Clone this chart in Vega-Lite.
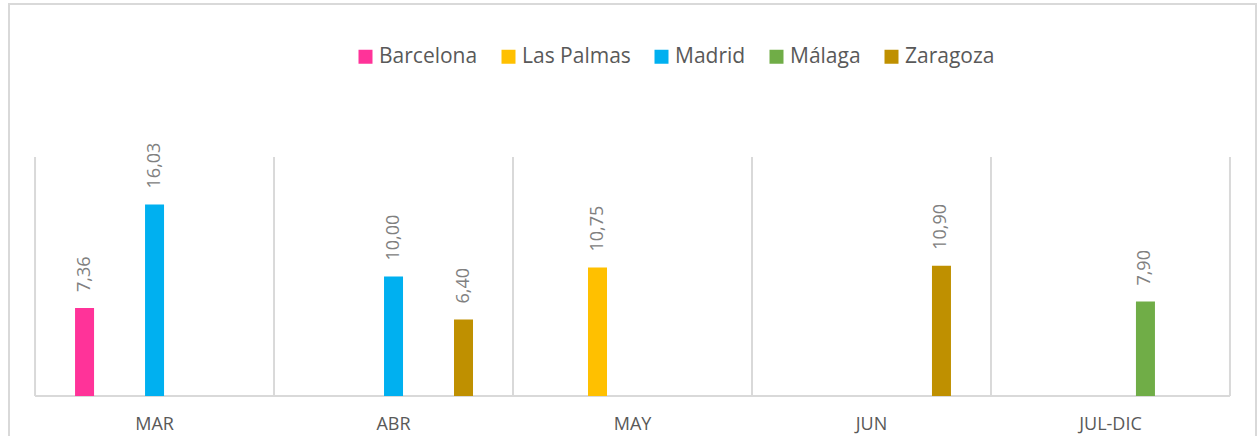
{
  "$schema": "https://vega.github.io/schema/vega-lite/v6.json",
  "width": 1247,
  "height": 436,
  "autosize": {"type": "none"},
  "padding": {"left": 9, "top": 4, "right": 1, "bottom": 0},
  "background": "white",
  "config": {
    "view": {"stroke": "#d9d9d9", "strokeWidth": 2},
    "font": "Open Sans",
    "locale": {"number": {"decimal": ",", "thousands": ".", "grouping": [3], "currency": ["", " €"]}}
  },
  "datasets": {
    "bars": [
      {"mes": "MAR", "ciudad": "Barcelona", "valor": 7.36},
      {"mes": "MAR", "ciudad": "Madrid", "valor": 16.03},
      {"mes": "ABR", "ciudad": "Madrid", "valor": 10.00},
      {"mes": "ABR", "ciudad": "Zaragoza", "valor": 6.40},
      {"mes": "MAY", "ciudad": "Las Palmas", "valor": 10.75},
      {"mes": "JUN", "ciudad": "Zaragoza", "valor": 10.90},
      {"mes": "JUL-DIC", "ciudad": "Málaga", "valor": 7.90}
    ],
    "meses": [
      {"mes": "MAR"}, {"mes": "ABR"}, {"mes": "MAY"}, {"mes": "JUN"}, {"mes": "JUL-DIC"}
    ]
  },
  "layer": [
    {
      "data": {"name": "meses"},
      "mark": {"type": "rule", "color": "#d9d9d9", "strokeWidth": 2},
      "encoding": {
        "x": {"field": "mes", "type": "nominal", "bandPosition": 0,
              "scale": {"domain": ["MAR", "ABR", "MAY", "JUN", "JUL-DIC"], "paddingInner": 0, "paddingOuter": 0.109},
              "axis": {"title": null, "offset": -44, "domain": false, "ticks": false, "grid": false, "labelAngle": 0,
                       "labelFont": "Open Sans", "labelFontSize": 18, "labelColor": "#595959", "labelPadding": 19, "labelBaseline": "top"}},
        "y": {"datum": 0, "type": "quantitative", "scale": {"domain": [-3.682, 32.803], "nice": false, "zero": false}, "axis": null},
        "y2": {"datum": 20}
      }
    },
    {
      "data": {"values": [{}]},
      "mark": {"type": "rule", "color": "#d9d9d9", "strokeWidth": 2},
      "encoding": {
        "x": {"datum": "JUL-DIC", "type": "nominal", "bandPosition": 1},
        "y": {"datum": 0, "type": "quantitative"},
        "y2": {"datum": 20}
      }
    },
    {
      "data": {"values": [{}]},
      "mark": {"type": "rule", "color": "#d9d9d9", "strokeWidth": 2},
      "encoding": {
        "x": {"datum": "MAR", "type": "nominal", "bandPosition": 0},
        "x2": {"datum": "JUL-DIC", "bandPosition": 1},
        "y": {"datum": 0, "type": "quantitative"}
      }
    },
    {
      "data": {"name": "bars"},
      "mark": {"type": "bar", "width": 19},
      "encoding": {
        "x": {"field": "mes", "type": "nominal"},
        "xOffset": {"field": "ciudad", "type": "nominal",
                    "scale": {"domain": ["Barcelona", "Las Palmas", "Madrid", "Málaga", "Zaragoza"], "paddingInner": 0.171, "paddingOuter": 1}},
        "y": {"field": "valor", "type": "quantitative"},
        "color": {"field": "ciudad", "type": "nominal",
                  "scale": {"domain": ["Barcelona", "Las Palmas", "Madrid", "Málaga", "Zaragoza"],
                            "range": ["#FF3399", "#FFC000", "#00B0F0", "#70AD47", "#BF9000"]},
                  "legend": {"orient": "none", "legendX": 346, "legendY": 42, "direction": "horizontal", "title": null,
                             "symbolType": "square", "symbolSize": 196, "symbolStrokeWidth": 0, "symbolOpacity": 1,
                             "labelFont": "Open Sans", "labelFontSize": 21, "labelColor": "#595959",
                             "labelOffset": 3, "columnPadding": 20, "padding": 0}}
      }
    },
    {
      "data": {"name": "bars"},
      "mark": {"type": "text", "angle": 270, "align": "left", "baseline": "middle", "dx": 16,
               "font": "Open Sans", "fontSize": 18, "color": "#808080"},
      "encoding": {
        "x": {"field": "mes", "type": "nominal"},
        "xOffset": {"field": "ciudad", "type": "nominal"},
        "y": {"field": "valor", "type": "quantitative"},
        "text": {"field": "valor", "type": "quantitative", "format": ".2f"}
      }
    }
  ]
}
